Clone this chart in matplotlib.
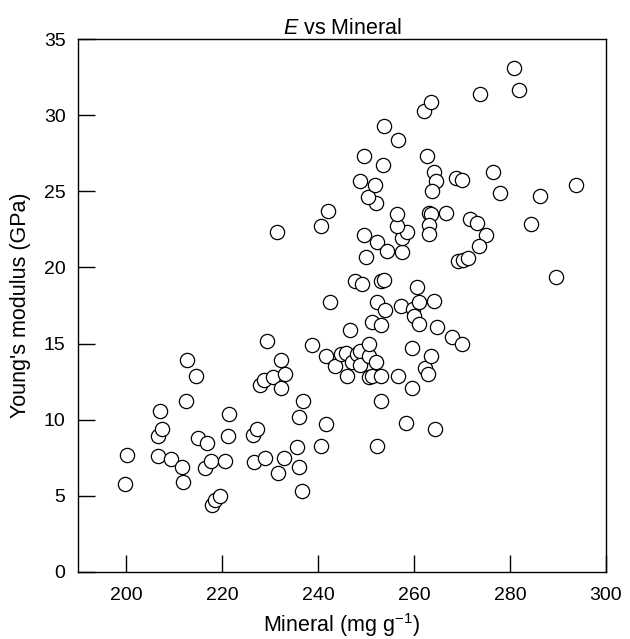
import matplotlib
matplotlib.use("Agg")
import matplotlib.pyplot as plt

plt.rcParams['font.family'] = ['Liberation Sans', 'DejaVu Sans']
plt.rcParams['mathtext.fontset'] = 'custom'
plt.rcParams['mathtext.rm'] = 'Liberation Sans'
plt.rcParams['mathtext.it'] = 'Liberation Sans:italic'

# mineral content (mg/g) and Young's modulus (GPa)
mineral = [199.8, 200.3, 206.7, 206.7, 207.1, 207.6, 209.4, 211.6, 211.8, 212.4,
           212.8, 214.6, 215.1, 216.8, 216.5, 217.8, 218.0, 218.5, 219.6, 220.6,
           221.2, 221.5, 226.7, 229.0, 226.5, 227.2, 227.9, 228.8, 230.7, 232.3,
           233.1, 232.2, 229.3, 231.4, 231.7, 232.9, 235.6, 236.1, 236.7, 236.0,
           236.8, 238.8, 240.6, 241.6, 241.7, 242.6, 240.6, 242.15, 243.5, 244.9,
           245.8, 246.0, 247.0, 246.7, 247.7, 249.2, 248.1, 248.75, 248.75, 250.6,
           250.7, 250.7, 251.2, 252.1, 253.1, 251.3, 253.2, 252.4, 254.0, 253.1,
           253.8, 252.2, 253.1, 256.6, 257.2, 258.3, 259.6, 259.5, 259.7, 260.0,
           261.0, 260.6, 261.1, 264.2, 264.7, 262.4, 262.85, 263.5, 264.4, 268.0,
           270.1, 250.0, 249.6, 252.4, 254.4, 257.6, 257.6, 258.6, 256.5, 256.4,
           252.1, 250.4, 251.9, 248.75, 249.6, 253.6, 253.8, 256.7, 262.1, 263.5,
           262.7, 264.1, 264.5, 263.7, 268.7, 270.1, 276.45, 278.0, 286.25, 293.75,
           263.2, 263.5, 266.6, 263.15, 263.1, 271.7, 273.15, 275.0, 273.6, 269.1,
           270.3, 271.3, 284.45, 289.5, 280.8, 281.9, 273.75]
modulus = [5.8, 7.7, 7.6, 8.9, 10.6, 9.4, 7.4, 6.9, 5.9, 11.2,
           13.9, 12.9, 8.8, 8.5, 6.8, 7.3, 4.4, 4.7, 5.0, 7.3,
           8.9, 10.35, 7.2, 7.5, 9.0, 9.4, 12.3, 12.6, 12.8, 12.1,
           13.0, 13.9, 15.2, 22.3, 6.5, 7.5, 8.2, 6.9, 5.3, 10.2,
           11.2, 14.9, 8.3, 9.7, 14.2, 17.7, 22.7, 23.7, 13.5, 14.3,
           14.4, 12.85, 13.8, 15.9, 19.1, 18.9, 14.3, 14.5, 13.6, 14.2,
           15.0, 12.8, 12.85, 13.8, 12.9, 16.4, 16.2, 17.7, 17.2, 19.1,
           19.15, 8.3, 11.2, 12.85, 17.5, 9.8, 12.05, 14.7, 17.25, 16.8,
           16.3, 18.7, 17.7, 17.8, 16.1, 13.4, 13.0, 14.2, 9.4, 15.4,
           15.0, 20.7, 22.1, 21.7, 21.05, 21.0, 21.95, 22.3, 22.7, 23.5,
           24.2, 24.65, 25.4, 25.7, 27.3, 26.7, 29.3, 28.4, 30.25, 30.85,
           27.3, 26.25, 25.65, 25.05, 25.9, 25.75, 26.3, 24.9, 24.7, 25.4,
           23.6, 23.5, 23.55, 22.8, 22.2, 23.2, 22.95, 22.1, 21.4, 20.4,
           20.5, 20.6, 22.85, 19.4, 33.1, 31.65, 31.4]

fig = plt.figure(figsize=(6.3, 6.39), dpi=100)
ax = fig.add_axes([0.1238, 0.1049, 0.838, 0.834])

ax.scatter(mineral, modulus, s=105, facecolors='white', edgecolors='black',
           linewidths=0.9, zorder=3)

ax.set_xlim(190, 300)
ax.set_ylim(0, 35)
ax.set_xticks(range(200, 301, 20))
ax.set_yticks(range(0, 36, 5))
ax.tick_params(direction='in', length=12, width=1.0, labelsize=14,
               top=False, right=False)
ax.tick_params(axis='x', pad=11)
ax.tick_params(axis='y', pad=9)
for s in ax.spines.values():
    s.set_linewidth(1.0)

ax.set_title("$E$ vs Mineral", fontsize=15.5, pad=3)
ax.set_xlabel("Mineral (mg g$^{-1}$)", fontsize=15.5, labelpad=5)
ax.set_ylabel("Young's modulus (GPa)", fontsize=15.5, labelpad=9)

fig.savefig("out.png", dpi=100)
